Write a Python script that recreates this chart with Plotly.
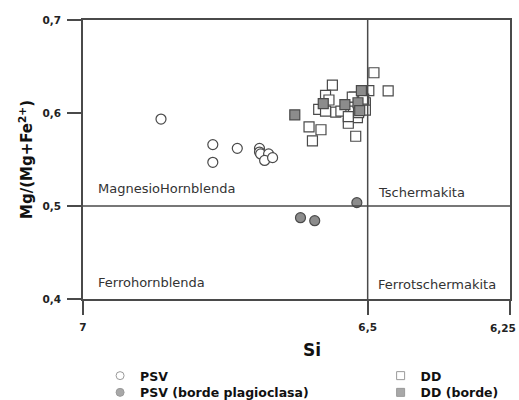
import plotly.graph_objects as go

# PSV (open circles)
psv_si = [6.863, 6.772, 6.772, 6.729, 6.690, 6.690, 6.688, 6.674, 6.681, 6.667]
psv_mg = [0.5935, 0.566, 0.547, 0.562, 0.562, 0.558, 0.556, 0.556, 0.549, 0.552]

# PSV (borde plagioclasa) (grey circles)
psvb_si = [6.618, 6.593, 6.519]
psvb_mg = [0.4874, 0.4842, 0.5036]

# DD (open squares)
dd_si = [6.489, 6.562, 6.464, 6.498, 6.574, 6.568, 6.523, 6.586, 6.574, 6.556,
         6.504, 6.504, 6.518, 6.534, 6.603, 6.582, 6.597, 6.521, 6.547, 6.525,
         6.507, 6.527, 6.534, 6.516]
dd_mg = [0.6433, 0.630, 0.6237, 0.624, 0.619, 0.614, 0.617, 0.604, 0.602, 0.601,
         0.611, 0.603, 0.595, 0.589, 0.585, 0.582, 0.570, 0.575, 0.602, 0.602,
         0.615, 0.617, 0.596, 0.6005]

# DD (borde) (grey squares)
ddb_si = [6.628, 6.578, 6.540, 6.511, 6.517, 6.514]
ddb_mg = [0.598, 0.610, 0.609, 0.624, 0.611, 0.6025]

x_ticks = [7, 6.5, 6.25]
x_tick_text = ["7", "6,5", ""]
last_tick_label = "6,25"   # drawn right-aligned so it stays inside the page
y_ticks = [0.4, 0.5, 0.6, 0.7]

region_labels = ["MagnesioHornblenda", "Tschermakita", "Ferrohornblenda", "Ferrotschermakita"]
region_x = [6.977, 6.485, 6.977, 6.485]
region_y = [0.5185, 0.514, 0.4175, 0.4155]

legend_names = ["PSV", "PSV (borde plagioclasa)", "DD", "DD (borde)"]

edge = "#4a4a4a"
grey = "#8c8c8c"

fig = go.Figure()

def data_trace(x, y, symbol, fill):
    fig.add_trace(go.Scatter(
        x=x, y=y, mode="markers", showlegend=False,
        marker=dict(symbol=symbol, size=10, color=fill,
                    line=dict(color=edge, width=1.2))))

data_trace(dd_si, dd_mg, "square", "white")
data_trace(ddb_si, ddb_mg, "square", grey)
data_trace(psv_si, psv_mg, "circle", "white")
data_trace(psvb_si, psvb_mg, "circle", grey)

leg_symbols = ["circle", "circle", "square", "square"]
leg_fills = ["white", "#a8a8a8", "white", "#a8a8a8"]
leg_ids = ["legend", "legend2", "legend3", "legend4"]
for name, sym, fill, lid in zip(legend_names, leg_symbols, leg_fills, leg_ids):
    fig.add_trace(go.Scatter(
        x=[None], y=[None], mode="markers", name=name, legend=lid,
        marker=dict(symbol=sym, size=8, color=fill,
                    line=dict(color="#9a9a9a", width=1))))

fig.add_shape(type="line", xref="x", yref="y", x0=7, x1=6.25, y0=0.5, y1=0.5,
              line=dict(color=edge, width=1.5))
fig.add_shape(type="line", xref="x", yref="y", x0=6.5, x1=6.5, y0=0.4, y1=0.7,
              line=dict(color=edge, width=1.5))

for t, xx, yy in zip(region_labels, region_x, region_y):
    fig.add_annotation(x=xx, y=yy, text=t, showarrow=False, xanchor="left",
                       yanchor="middle",
                       font=dict(family="DejaVu Sans", size=13, color="#333333"))

tick_font = dict(family="DejaVu Sans", size=10.5, color="#222222", weight="bold")

fig.add_annotation(x=x_ticks[-1], xref="x", yref="paper", y=-0.104,
                   text=last_tick_label, showarrow=False, xanchor="right",
                   yanchor="middle", xshift=8, font=tick_font)

fig.add_annotation(xref="paper", yref="paper", x=0.536, y=-0.14, text="<b>Si</b>",
                   showarrow=False, xanchor="center", yanchor="top",
                   font=dict(family="DejaVu Sans", size=17, color="#111111"))

axis_common = dict(showline=True, linecolor=edge, linewidth=1.5, mirror=True,
                   ticks="outside", ticklen=14, tickwidth=1.5, tickcolor=edge,
                   showgrid=False, zeroline=False, automargin=False,
                   tickfont=tick_font)

leg_font = dict(family="DejaVu Sans", size=12.5, color="#111111", weight="bold")
def leg(x, y):
    return dict(x=x, y=y, xanchor="left", yanchor="middle", tracegroupgap=0,
                font=leg_font, bgcolor="rgba(0,0,0,0)")

row1 = -0.276
row2 = -0.336

fig.update_layout(
    width=519, height=400,
    margin=dict(l=83, r=9, t=20, b=101, autoexpand=False),
    paper_bgcolor="white", plot_bgcolor="white",
    separators=",.",
    xaxis=dict(range=[7, 6.25], tickvals=x_ticks, ticktext=x_tick_text,
               ticklabelstandoff=4, **axis_common),
    yaxis=dict(range=[0.4, 0.7], tickvals=y_ticks, tickformat=".1f",
               title=dict(text="<b>Mg/(Mg+Fe<sup>2+</sup>)</b>", standoff=6,
                          font=dict(family="DejaVu Sans", size=15, color="#111111")),
               ticklabelstandoff=4,
               **axis_common),
    legend=leg(0.04, row1),
    legend2=leg(0.04, row2),
    legend3=leg(0.697, row1),
    legend4=leg(0.697, row2),
)

fig.write_html("out.html")
